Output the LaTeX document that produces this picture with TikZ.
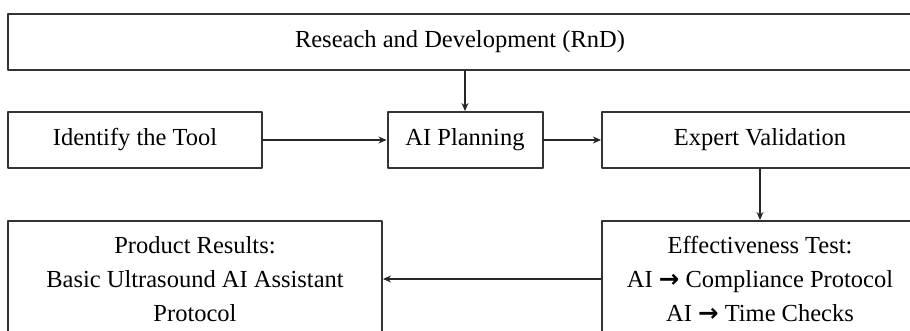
\documentclass[tikz,border=0pt]{standalone}
\usepackage{fontspec}
\setmainfont{Liberation Serif}
\newfontfamily\arrowfont{DejaVu Sans}
\usetikzlibrary{arrows.meta}
\tikzset{
  blk/.style={draw=black!80, line width=2pt, align=center, inner sep=0pt,
    font=\fontsize{24.5}{34}\selectfont},
  flow/.style={draw=black!85, line width=1.6pt, -{Stealth[length=8pt,width=7pt]}},
}
\newcommand{\toarr}{{\arrowfont\bfseries →}}

\begin{document}
\begin{tikzpicture}[x=1pt, y=-1pt, line cap=round, line join=round]
                \useasboundingbox (0,0) rectangle (910,331);
                \clip (0,0) rectangle (910,331);
                \node[blk, minimum width=904pt, minimum height=56pt] (rnd) at (460,42) {Reseach and Development (RnD)};
                \node[blk, minimum width=254pt, minimum height=56pt] (tool) at (135,140) {Identify the Tool};
                \node[blk, minimum width=155pt, minimum height=56pt] (plan) at (465,140) {AI Planning};
                \node[blk, minimum width=316pt, minimum height=56pt] (expert) at (760,140) {Expert Validation};
                \node[blk, minimum width=374pt, minimum height=116pt] (product) at (195,279) {Product Results:\\Basic Ultrasound AI Assistant\\Protocol};
                \node[blk, minimum width=316pt, minimum height=116pt] (effect) at (760,279) {Effectiveness Test:\\AI \toarr{} Compliance Protocol\\AI \toarr{} Time Checks};
                \draw[flow] (rnd.south -| plan.north) -- (plan.north);
                \draw[flow] (tool) -- (plan);
                \draw[flow] (plan) -- (expert);
                \draw[flow] (expert) -- (effect);
                \draw[flow] (effect) -- (product);
            \end{tikzpicture}
\end{document}
